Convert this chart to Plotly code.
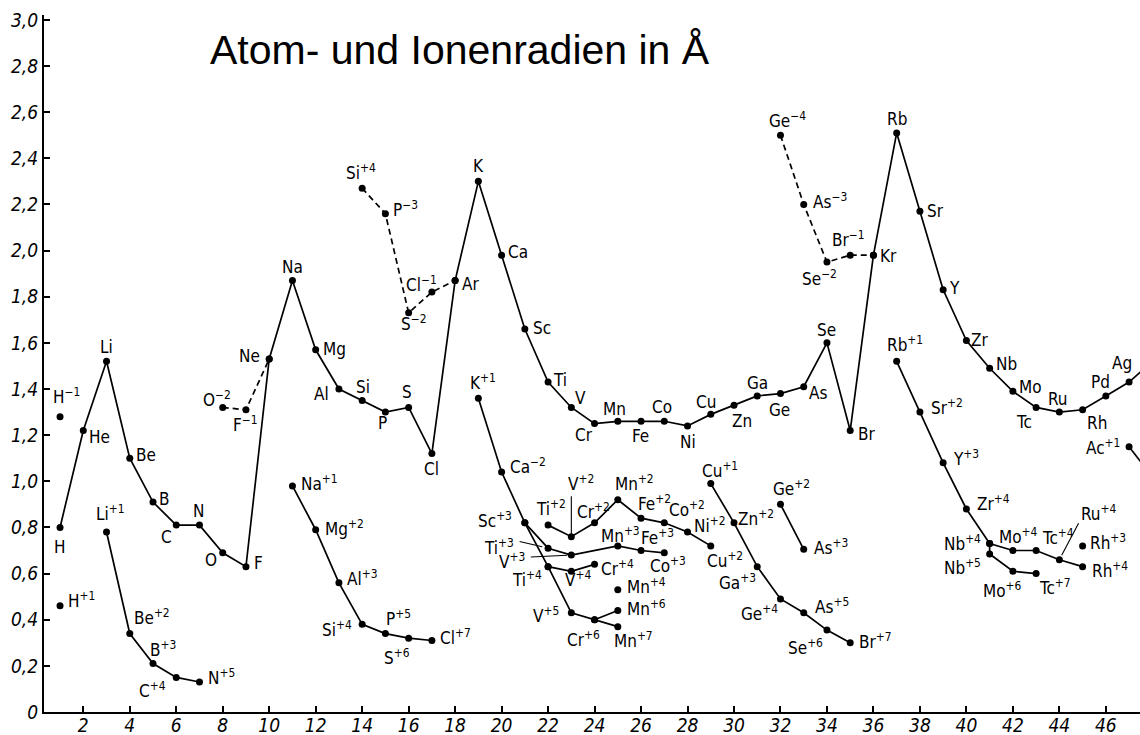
import plotly.graph_objects as go

# ------------------------------------------------------------------ data
atom_z = list(range(1, 49))
atom_r = [0.80, 1.22, 1.52, 1.10, 0.91, 0.81, 0.81, 0.69, 0.63, 1.53,
          1.87, 1.57, 1.40, 1.35, 1.30, 1.32, 1.12, 1.87, 2.30, 1.98,
          1.66, 1.43, 1.32, 1.25, 1.26, 1.26, 1.26, 1.24, 1.29, 1.33,
          1.37, 1.38, 1.41, 1.60, 1.22, 1.98, 2.51, 2.17, 1.83, 1.61,
          1.49, 1.39, 1.32, 1.30, 1.31, 1.37, 1.43, 1.52]
atom_lbl = ["H", "He", "Li", "Be", "B", "C", "N", "O", "F", "Ne",
            "Na", "Mg", "Al", "Si", "P", "S", "Cl", "Ar", "K", "Ca",
            "Sc", "Ti", "V", "Cr", "Mn", "Fe", "Co", "Ni", "Cu", "Zn",
            "Ga", "Ge", "As", "Se", "Br", "Kr", "Rb", "Sr", "Y", "Zr",
            "Nb", "Mo", "Tc", "Ru", "Rh", "Pd", "Ag", ""]

anion_a_z = [8, 9, 10]
anion_a_r = [1.32, 1.31, 1.53]
anion_a_lbl = ["O^-2", "F^-1", ""]

anion_b_z = [14, 15, 16, 17, 18]
anion_b_r = [2.27, 2.16, 1.73, 1.82, 1.87]
anion_b_lbl = ["Si^+4", "P^-3", "S^-2", "Cl^-1", ""]

anion_c_z = [32, 33, 34, 35, 36]
anion_c_r = [2.50, 2.20, 1.95, 1.98, 1.98]
anion_c_lbl = ["Ge^-4", "As^-3", "Se^-2", "Br^-1", ""]

h_minus_z, h_minus_r, h_minus_lbl = [1], [1.28], ["H^-1"]
h_plus_z, h_plus_r, h_plus_lbl = [1], [0.46], ["H^+1"]

li_z = [3, 4, 5, 6, 7]
li_r = [0.78, 0.34, 0.21, 0.15, 0.13]
li_lbl = ["Li^+1", "Be^+2", "B^+3", "C^+4", "N^+5"]

na_z = [11, 12, 13, 14, 15, 16, 17]
na_r = [0.98, 0.79, 0.56, 0.38, 0.34, 0.32, 0.31]
na_lbl = ["Na^+1", "Mg^+2", "Al^+3", "Si^+4", "P^+5", "S^+6", "Cl^+7"]

k_z = [19, 20, 21, 22, 23, 24, 25]
k_r = [1.36, 1.04, 0.82, 0.63, 0.43, 0.40, 0.37]
k_lbl = ["K^+1", "Ca^-2", "Sc^+3", "Ti^+4", "V^+5", "Cr^+6", "Mn^+7"]

mn6_z, mn6_r, mn6_lbl = [24, 25], [0.40, 0.44], ["", "Mn^+6"]

m3_z = [21, 22, 23, 25, 26, 27]
m3_r = [0.82, 0.71, 0.68, 0.72, 0.70, 0.69]
m3_lbl = ["", "Ti^+3", "V^+3", "Mn^+3", "Fe^+3", "Co^+3"]

m4_z, m4_r, m4_lbl = [22, 23, 24], [0.63, 0.61, 0.64], ["", "V^+4", "Cr^+4"]

mn4_z, mn4_r, mn4_lbl = [25], [0.53], ["Mn^+4"]

m2_z = [22, 23, 24, 25, 26, 27, 28, 29]
m2_r = [0.81, 0.76, 0.82, 0.92, 0.84, 0.82, 0.78, 0.72]
m2_lbl = ["Ti^+2", "V^+2", "Cr^+2", "Mn^+2", "Fe^+2", "Co^+2", "Ni^+2", "Cu^+2"]

cu_z = [29, 30, 31, 32, 33, 34, 35]
cu_r = [0.99, 0.82, 0.63, 0.49, 0.43, 0.355, 0.30]
cu_lbl = ["Cu^+1", "Zn^+2", "Ga^+3", "Ge^+4", "As^+5", "Se^+6", "Br^+7"]

ge2_z, ge2_r, ge2_lbl = [32, 33], [0.90, 0.705], ["Ge^+2", "As^+3"]

rb_z = [37, 38, 39, 40, 41, 42, 43, 44, 45]
rb_r = [1.52, 1.30, 1.08, 0.88, 0.73, 0.70, 0.70, 0.66, 0.63]
rb_lbl = ["Rb^+1", "Sr^+2", "Y^+3", "Zr^+4", "Nb^+4", "Mo^+4", "Tc^+4", "Ru^+4", "Rh^+4"]

nb5_z = [41, 41, 42, 43]
nb5_r = [0.73, 0.685, 0.61, 0.60]
nb5_lbl = ["", "Nb^+5", "Mo^+6", "Tc^+7"]

rh3_z, rh3_r, rh3_lbl = [45], [0.72], ["Rh^+3"]

ag1_z, ag1_r, ag1_lbl = [47, 48], [1.15, 1.02], ["Ac^+1", ""]

x_ticks = list(range(2, 47, 2))
y_ticks = [0, 0.2, 0.4, 0.6, 0.8, 1.0, 1.2, 1.4, 1.6, 1.8, 2.0, 2.2, 2.4, 2.6, 2.8, 3.0]
y_ticktext = ["0", "0,2", "0,4", "0,6", "0,8", "1,0", "1,2", "1,4", "1,6", "1,8",
              "2,0", "2,2", "2,4", "2,6", "2,8", "3,0"]
title_text = "Atom- und Ionenradien in Å"

# ------------------------------------------------------------------ layout helpers
series = [
    ("atoms", atom_z, atom_r, atom_lbl, "solid"),
    ("anion_a", anion_a_z, anion_a_r, anion_a_lbl, "dash"),
    ("anion_b", anion_b_z, anion_b_r, anion_b_lbl, "dash"),
    ("anion_c", anion_c_z, anion_c_r, anion_c_lbl, "dash"),
    ("h_minus", h_minus_z, h_minus_r, h_minus_lbl, "solid"),
    ("h_plus", h_plus_z, h_plus_r, h_plus_lbl, "solid"),
    ("li", li_z, li_r, li_lbl, "solid"),
    ("na", na_z, na_r, na_lbl, "solid"),
    ("k", k_z, k_r, k_lbl, "solid"),
    ("mn6", mn6_z, mn6_r, mn6_lbl, "solid"),
    ("m3", m3_z, m3_r, m3_lbl, "solid"),
    ("m4", m4_z, m4_r, m4_lbl, "solid"),
    ("mn4", mn4_z, mn4_r, mn4_lbl, "solid"),
    ("m2", m2_z, m2_r, m2_lbl, "solid"),
    ("cu", cu_z, cu_r, cu_lbl, "solid"),
    ("ge2", ge2_z, ge2_r, ge2_lbl, "solid"),
    ("rb", rb_z, rb_r, rb_lbl, "solid"),
    ("nb5", nb5_z, nb5_r, nb5_lbl, "solid"),
    ("rh3", rh3_z, rh3_r, rh3_lbl, "solid"),
    ("ag1", ag1_z, ag1_r, ag1_lbl, "solid"),
]

# label centre offsets from the point, in pixels (dx right, dy down)
offsets = {
    "atoms": {"H": (0, 20), "He": (16, 6), "Li": (0, -14), "Be": (16, -3), "B": (11, -3),
              "C": (-10, 12), "N": (-1, -14), "O": (-12, 7), "F": (13, -4), "Ne": (-20, -3),
              "Na": (0, -14), "Mg": (19, -1), "Al": (-17, 5), "Si": (1, -14), "P": (-3, 11),
              "S": (-2, -15), "Cl": (0, 15), "Ar": (15, 3), "K": (0, -15), "Ca": (16, -3),
              "Sc": (17, -1), "Ti": (12, -2), "V": (9, -9), "Cr": (-11, 11), "Mn": (-3, -12),
              "Fe": (-1, 15), "Co": (-2, -14), "Ni": (0, 16), "Cu": (-5, -12), "Zn": (8, 16),
              "Ga": (0, -13), "Ge": (-1, 16), "As": (14, 6), "Se": (0, -13), "Br": (16, 3),
              "Kr": (15, 1), "Rb": (0, -14), "Sr": (16, 0), "Y": (11, -2), "Zr": (13, -1),
              "Nb": (17, -4), "Mo": (18, -4), "Tc": (-12, 15), "Ru": (-1, -13), "Rh": (14, 13),
              "Pd": (-5, -14), "Ag": (-7, -19)},
    "anion_a": {"O^-2": (-6, -8), "F^-1": (0, 14)},
    "anion_b": {"Si^+4": (-1, -16), "P^-3": (20, -5), "S^-2": (5, 10), "Cl^-1": (-10, -8)},
    "anion_c": {"Ge^-4": (7, -15), "As^-3": (26, -3), "Se^-2": (-7, 16), "Br^-1": (-2, -16)},
    "h_minus": {"H^-1": (6, -21)},
    "h_plus": {"H^+1": (21, -6)},
    "li": {"Li^+1": (4, -19), "Be^+2": (22, -17), "B^+3": (10, -15), "C^+4": (-24, 13),
           "N^+5": (22, -5)},
    "na": {"Na^+1": (27, -3), "Mg^+2": (29, -2), "Al^+3": (24, -5), "Si^+4": (-25, 5),
           "P^+5": (13, -16), "S^+6": (-12, 19), "Cl^+7": (24, -3)},
    "k": {"K^+1": (5, -16), "Ca^-2": (26, -6), "Sc^+3": (-30, -3), "Ti^+4": (-21, 12),
          "V^+5": (-25, 2), "Cr^+6": (-11, 19), "Mn^+7": (16, 13)},
    "mn6": {"Mn^+6": (29, -2)},
    "m3": {"Ti^+3": (-49, -1), "V^+3": (-59, 6), "Mn^+3": (3, -11), "Fe^+3": (16, -14),
           "Co^+3": (4, 12)},
    "m4": {"V^+4": (7, 8), "Cr^+4": (23, 4)},
    "mn4": {"Mn^+4": (29, -4)},
    "m2": {"Ti^+2": (3, -17), "V^+2": (10, -54), "Cr^+2": (-1, -12), "Mn^+2": (17, -17),
           "Fe^+2": (13, -15), "Co^+2": (23, -14), "Ni^+2": (22, -7), "Cu^+2": (14, 14)},
    "cu": {"Cu^+1": (9, -14), "Zn^+2": (22, -5), "Ga^+3": (-20, 15), "Ge^+4": (-21, 14),
           "As^+5": (28, -7), "Se^+6": (-21, 17), "Br^+7": (25, -2)},
    "ge2": {"Ge^+2": (11, -16), "As^+3": (27, -2)},
    "rb": {"Rb^+1": (8, -17), "Sr^+2": (27, -5), "Y^+3": (23, -5), "Zr^+4": (27, -6),
           "Nb^+4": (-27, -1), "Mo^+4": (6, -15), "Tc^+4": (22, -14), "Ru^+4": (40, -47),
           "Rh^+4": (27, 3)},
    "nb5": {"Nb^+5": (-27, 13), "Mo^+6": (-10, 19), "Tc^+7": (19, 13)},
    "rh3": {"Rh^+3": (25, -4)},
    "ag1": {"Ac^+1": (-26, 0)},
}

# leader lines: (tail dx, tail dy, standoff)
leaders = {
    ("m3", "Ti^+3"): (-30, -7, 6),
    ("m3", "V^+3"): (-42, 2, 4),
    ("m2", "V^+2"): (0, -42, 3),
    ("rb", "Ru^+4"): (20, -38, 5),
}

LABEL_FONT = "DejaVu Sans Condensed, Liberation Sans Narrow, DejaVu Sans, sans-serif"


def fmt(lbl):
    if "^" in lbl:
        base, sup = lbl.split("^")
        return f"{base}<sup>{sup.replace('-', '−')}</sup>"
    return lbl


fig = go.Figure()
annotations = []

for key, zs, rs, lbls, dash in series:
    fig.add_trace(go.Scatter(
        x=zs, y=rs,
        mode="lines+markers" if len(zs) > 1 else "markers",
        line=dict(color="black", width=1.7, dash="6px,4px" if dash == "dash" else "solid"),
        marker=dict(color="black", size=7),
        hoverinfo="skip",
    ))
    for z, r, lbl in zip(zs, rs, lbls):
        if not lbl:
            continue
        dx, dy = offsets[key][lbl]
        annotations.append(dict(
            x=z, y=r, xref="x", yref="y", text=fmt(lbl), showarrow=False,
            xanchor="center", yanchor="middle", xshift=dx, yshift=-dy,
            font=dict(family=LABEL_FONT, size=17, color="black"),
        ))
        if (key, lbl) in leaders:
            ax, ay, so = leaders[(key, lbl)]
            annotations.append(dict(
                x=z, y=r, xref="x", yref="y", text="", showarrow=True,
                ax=ax, ay=ay, arrowhead=0, arrowwidth=1.1, arrowcolor="black",
                standoff=so,
            ))

annotations.append(dict(
    x=0.1496, y=0.950, xref="paper", yref="paper", text=title_text, showarrow=False,
    xanchor="left", yanchor="middle",
    font=dict(family="Liberation Sans, Arial, sans-serif", size=41, color="black"),
))

tick_font = dict(family=LABEL_FONT, size=19, color="black", style="italic")

fig.update_layout(
    width=1140, height=735,
    margin=dict(l=44, r=0, t=15, b=23),
    paper_bgcolor="white", plot_bgcolor="white",
    showlegend=False,
    annotations=annotations,
    xaxis=dict(range=[0.31, 47.47], tickvals=x_ticks, ticktext=[str(v) for v in x_ticks],
               ticks="inside", ticklen=6, tickwidth=1.5, tickcolor="black",
               showline=True, linecolor="black", linewidth=2, automargin=False,
               ticklabelstandoff=-5,
               showgrid=False, zeroline=False, tickfont=tick_font),
    yaxis=dict(range=[0, 3.021], tickvals=y_ticks, ticktext=y_ticktext,
               ticks="inside", ticklen=6, tickwidth=1.5, tickcolor="black",
               showline=True, linecolor="black", linewidth=2, automargin=False,
               showgrid=False, zeroline=False, tickfont=tick_font),
)

fig.write_html("out.html", include_plotlyjs=True, config={"displayModeBar": False},
               post_script="document.body.style.margin='0';document.body.style.overflow='hidden';")
